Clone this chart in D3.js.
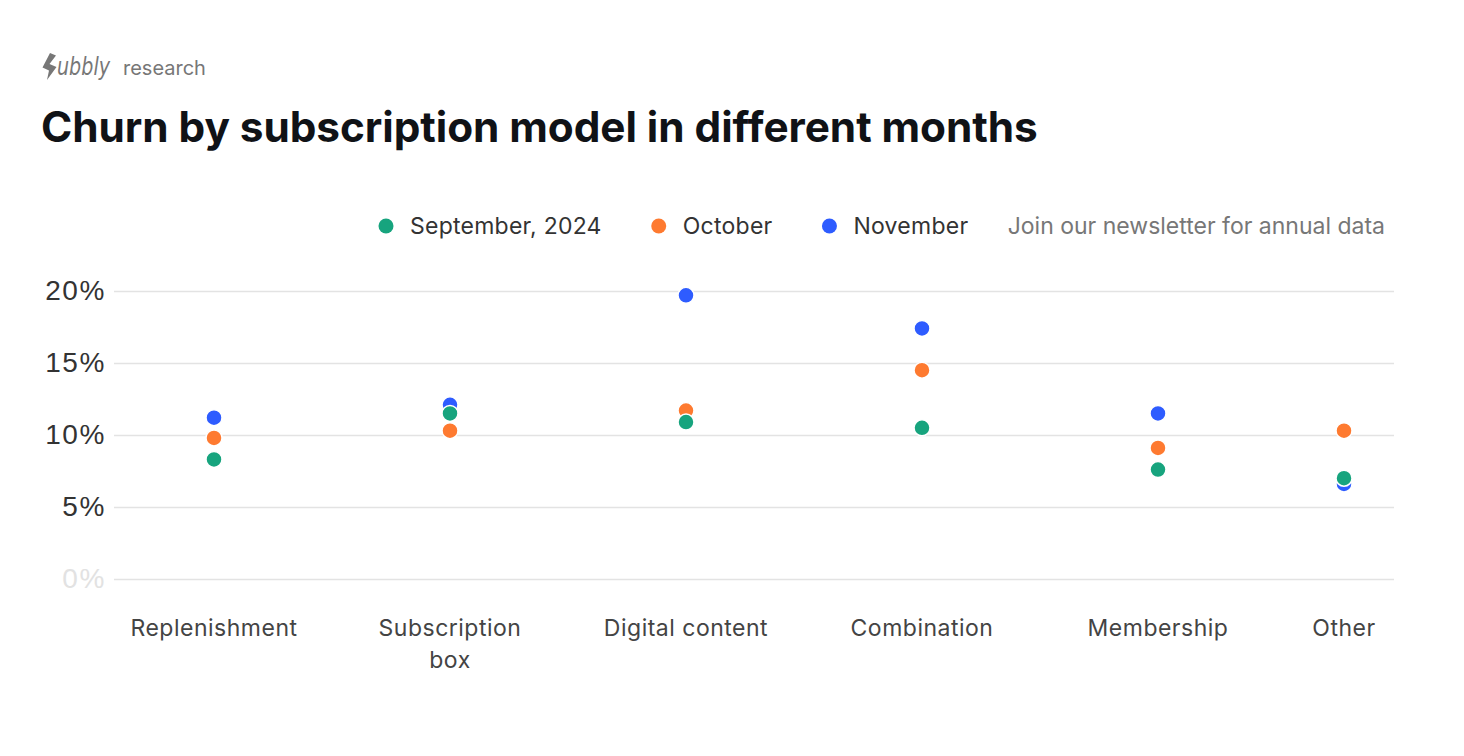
<!DOCTYPE html>
<html>
<head>
<meta charset="utf-8">
<script src="https://cdn.jsdelivr.net/npm/d3@7"></script>
<style>
  html, body { margin: 0; padding: 0; background: #fff; }
  svg { display: block; font-family: Inter, 'Noto Sans', sans-serif; }
</style>
</head>
<body>
<svg id="chart" width="1464" height="756"></svg>
<script>
// data
const categories = ['Replenishment', 'Subscription box', 'Digital content', 'Combination', 'Membership', 'Other'];
const september  = [8.3, 11.5, 10.9, 10.5, 7.6, 7.0];
const october    = [9.8, 10.3, 11.7, 14.5, 9.1, 10.3];
const november   = [11.2, 12.1, 19.7, 17.4, 11.5, 6.6];
const yTicks     = [0, 5, 10, 15, 20];

const series =
  [
    { name: 'September, 2024', color: '#17a47e', values: september },
    { name: 'October',         color: '#fe7a30', values: october },
    { name: 'November',        color: '#2e5cff', values: november }
  ];

const option =
  {
    plot:   { left: 114, right: 1394, top: 291, bottom: 579 },
    dot:    { r: 8, stroke: '#fff' },
    grid:   { color: '#e3e3e3' },
    font:   { color: '#333' }
  };

const svg = d3.select('#chart');

// header
const logo = svg.append('g').attr('fill', '#777');

logo.append('path')
  .attr('d', 'M50,53 L56,55.5 L49.5,64 L56.5,67 L47,80 L49,70.5 L42.5,67.5 Z')
;

logo.append('text')
  .text('ubbly')
  .attr('x', 57)
  .attr('y', 75)
  .attr('font-size', 25)
  .attr('font-style', 'italic')
  .attr('font-family', "'DejaVu Sans', sans-serif")
  .attr('textLength', 53)
  .attr('lengthAdjust', 'spacingAndGlyphs')
;

logo.append('text')
  .text('research')
  .attr('x', 123)
  .attr('y', 75)
  .attr('font-size', 20)
;

svg.append('text')
  .text('Churn by subscription model in different months')
  .attr('x', 41)
  .attr('y', 142)
  .attr('font-size', 42.3)
  .attr('font-weight', 700)
  .attr('letter-spacing', -0.05)
  .attr('fill', '#101216')
;

// legend
const legend = svg.append('g').attr('transform', 'translate( 0 226 )');

let lx = 386;

series.forEach(s =>
{
  legend.append('circle')
    .attr('cx', lx)
    .attr('cy', 0)
    .attr('r', 7.5)
    .attr('fill', s.color)
  ;

  const t = legend.append('text')
    .text(s.name)
    .attr('x', lx + 24)
    .attr('y', 0)
    .attr('dy', '0.35em')
    .attr('font-size', 23)
    .attr('letter-spacing', 0.25)
    .attr('fill', option.font.color)
  ;

  lx += 24 + t.node().getComputedTextLength() + 57;
});

legend.append('text')
  .text('Join our newsletter for annual data')
  .attr('x', 1385)
  .attr('y', 0)
  .attr('dy', '0.35em')
  .attr('font-size', 23)
  .attr('text-anchor', 'end')
  .attr('fill', '#777')
;

// scales
const x = d3.scalePoint()
  .domain(categories)
  .range([214, option.plot.right])
;

// the last group is pulled in so it stays inside the plot
const cx = c => Math.min(x(c), option.plot.right - 50);

const y = d3.scaleLinear()
  .domain([0, 20])
  .range([option.plot.bottom, option.plot.top])
;

// grid + y axis
const yAxis = svg.append('g')
  .attr('transform', `translate( ${ option.plot.left } 0 )`)
  .call(d3.axisLeft(y).tickValues(yTicks).tickFormat(d => `${ d }%`).tickSize(-(option.plot.right - option.plot.left)).tickPadding(8))
;

yAxis.select('.domain').remove();

yAxis.selectAll('.tick line')
  .attr('stroke', option.grid.color)
  .attr('stroke-width', 1.5)
;

yAxis.selectAll('.tick text')
  .attr('font-size', 28)
  .attr('letter-spacing', 1.6)
  .attr('font-family', null)
  .attr('fill', d => d === 0 ? '#e2e2e2' : option.font.color)
;

// x labels
const xLabels = svg.append('g').attr('transform', 'translate( 0 636 )');

xLabels.selectAll('text')
  .data(categories)
  .join('text')
  .attr('x', d => cx(d))
  .attr('y', 0)
  .attr('font-size', 23)
  .attr('letter-spacing', 0.5)
  .attr('text-anchor', 'middle')
  .attr('fill', '#444')
  .each(function(d)
  {
    const parts = d === 'Subscription box' ? ['Subscription', 'box'] : [d];

    d3.select(this).selectAll('tspan')
      .data(parts)
      .join('tspan')
      .attr('x', cx(d))
      .attr('dy', (p, i) => i === 0 ? 0 : 32)
      .text(p => p)
    ;
  })
;

// dots, november first so september sits on top
const dots = svg.append('g');

series.slice().reverse().forEach(s =>
{
  dots.append('g')
    .selectAll('circle')
    .data(categories.map((c, i) => ({ c, v: s.values[i] })))
    .join('circle')
    .attr('cx', d => cx(d.c))
    .attr('cy', d => y(d.v))
    .attr('r', option.dot.r)
    .attr('fill', s.color)
    .attr('stroke', option.dot.stroke)
    .attr('stroke-width', 1.5)
  ;
});
</script>
</body>
</html>
